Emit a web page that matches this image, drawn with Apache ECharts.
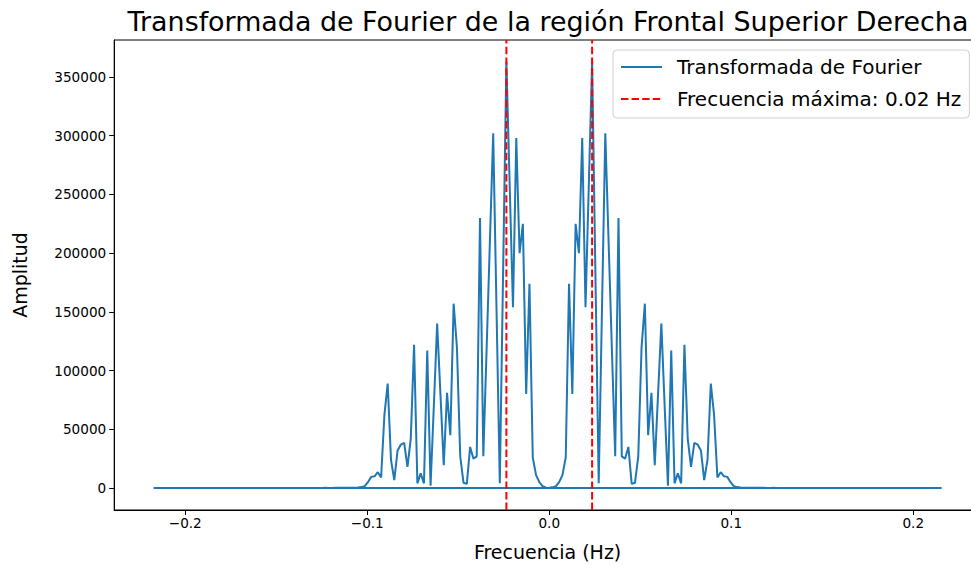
<!DOCTYPE html>
<html>
<head>
<meta charset="utf-8">
<title>Transformada de Fourier</title>
<script src="https://cdn.jsdelivr.net/npm/echarts@6/dist/echarts.min.js"></script>
<style>
  html, body { margin: 0; padding: 0; background: #ffffff; }
  #chart { width: 971px; height: 568px; }
</style>
</head>
<body>
<div id="chart"></div>
<script>
// Amplitude spectrum of the right superior frontal region signal
// (N = 240 volumes, TR = 2.3 s), plotted in numpy fftfreq order.
const nSamples = 240;
const repetitionTime = 2.3;

// |FFT| for bins 0 .. 119 (positive frequencies)
const ampPos = [
  300, 600, 1500, 5000, 11000, 26000, 174000, 80000, 225000, 200000,
  298000, 154000, 258000, 363000, 183000, 4000, 153000, 302000, 210000, 118000,
  27000, 230000, 27000, 25000, 35000, 3500, 4500, 27000, 120000, 157000,
  45000, 81000, 19500, 80000, 140000, 70000, 2000, 117000, 4000, 12500,
  4000, 122000, 42000, 18000, 38500, 37000, 32000, 6800, 24000, 89000,
  62000, 9000, 13500, 10000, 9500, 5000, 1500, 800, 450, 300,
  260, 210, 240, 180, 150, 170, 130, 120, 140, 110,
  100, 120, 90, 95, 80, 100, 85, 70, 90, 75,
  60, 80, 70, 65, 55, 70, 60, 50, 65, 55,
  45, 60, 50, 40, 55, 45, 40, 50, 40, 35,
  45, 40, 30, 40, 35, 30, 40, 30, 25, 35,
  30, 25, 30, 25, 20, 30, 25, 20, 25, 20
];

// |FFT| for bins -120 .. -1 (negative frequencies)
const ampNeg = [
  20,
  20, 25, 20, 25, 30, 20, 25, 30, 25, 30,
  35, 25, 30, 40, 30, 35, 40, 30, 40, 45,
  35, 40, 50, 40, 45, 55, 40, 50, 60, 45,
  55, 65, 50, 60, 70, 55, 65, 70, 80, 60,
  75, 90, 70, 85, 100, 80, 95, 90, 120, 100,
  110, 140, 120, 130, 170, 150, 180, 240, 210, 260,
  300, 450, 800, 1500, 5000, 9500, 10000, 13500, 9000, 62000,
  89000, 24000, 6800, 32000, 37000, 38500, 18000, 42000, 122000, 4000,
  12500, 4000, 117000, 2000, 70000, 140000, 80000, 19500, 81000, 45000,
  157000, 120000, 27000, 4500, 3500, 35000, 25000, 27000, 230000, 27000,
  118000, 210000, 302000, 153000, 4000, 183000, 363000, 258000, 154000, 298000,
  200000, 225000, 80000, 174000, 26000, 11000, 5000, 1500, 600
];

// dominant frequency (bin 13), marked on both sides of the spectrum
const peakFreq = 0.02355;
const xTicks = [-0.2, -0.1, 0.0, 0.1, 0.2];
const yTicks = [0, 50000, 100000, 150000, 200000, 250000, 300000, 350000];

const titleText = 'Transformada de Fourier de la región Frontal Superior Derecha';
const spectrumName = 'Transformada de Fourier';
const peakName = 'Frecuencia máxima: 0.02 Hz';
const xName = 'Frecuencia (Hz)';
const yName = 'Amplitud';

// axis ranges (data range plus 5 % padding)
const xMin = -0.23904, xMax = 0.23723;
const yMin = -18700, yMax = 381500;

// frequency of each bin, same ordering as np.fft.fftfreq
const binWidth = 1 / (nSamples * repetitionTime);
const spectrum = [];
ampPos.forEach((a, k) => spectrum.push([k * binWidth, a]));
ampNeg.forEach((a, i) => spectrum.push([(i - ampNeg.length) * binWidth, a]));

const font = "'DejaVu Sans', sans-serif";
const dash = [7.4, 3.2];
const tickFont = { fontFamily: font, fontSize: 13.6, color: '#000000' };

// a full-height dashed vertical line at frequency f
function peakLine(f) {
  return {
    type: 'line',
    name: peakName,
    data: [[f, yMin], [f, yMax]],
    symbol: 'none',
    showSymbol: false,
    silent: true,
    lineStyle: { color: '#ff0000', width: 2, type: dash },
    itemStyle: { color: '#ff0000' },
    z: 3
  };
}

const chart = echarts.init(document.getElementById('chart'), null, { renderer: 'svg' });
chart.setOption({
  animation: false,
  backgroundColor: '#ffffff',
  textStyle: { fontFamily: font, fontSize: 13.6, color: '#000000' },
  title: {
    text: titleText,
    left: 543,
    top: 3,
    textAlign: 'center',
    textStyle: { fontFamily: font, fontSize: 26.9, fontWeight: 'normal', color: '#000000' }
  },
  legend: {
    orient: 'vertical',
    left: 613,
    top: 50,
    padding: [7, 8, 9, 7],
    itemWidth: 41,
    itemHeight: 20,
    itemGap: 12,
    backgroundColor: 'rgba(255,255,255,0.8)',
    borderColor: '#d0d0d0',
    borderWidth: 1,
    borderRadius: 4,
    itemStyle: { opacity: 0 },
    textStyle: { fontFamily: font, fontSize: 20, color: '#000000', padding: [0, 0, 0, 10], lineHeight: 20 },
    data: [spectrumName, peakName]
  },
  grid: {
    show: true,
    left: 114.2,
    top: 40,
    width: 866.8,
    height: 470,
    outerBoundsMode: 'none',
    containLabel: false,
    borderColor: '#000000',
    borderWidth: 1,
    backgroundColor: 'transparent'
  },
  xAxis: {
    type: 'value',
    min: xMin,
    max: xMax,
    name: xName,
    nameLocation: 'middle',
    nameGap: 32,
    nameTextStyle: { fontFamily: font, fontSize: 19, color: '#000000' },
    axisLine: { show: true, onZero: false, lineStyle: { color: '#000000', width: 1 } },
    axisTick: { show: true, length: 5, customValues: xTicks, lineStyle: { color: '#000000' } },
    axisLabel: Object.assign({
      customValues: xTicks,
      margin: 6,
      formatter: v => {
        const s = (Math.abs(v) < 1e-9 ? 0 : v).toFixed(1);
        return s.replace('-', '\u2212');
      }
    }, tickFont),
    splitLine: { show: false }
  },
  yAxis: {
    type: 'value',
    min: yMin,
    max: yMax,
    name: yName,
    nameLocation: 'middle',
    nameGap: 85,
    nameTextStyle: { fontFamily: font, fontSize: 19, color: '#000000' },
    axisLine: { show: true, onZero: false, lineStyle: { color: '#000000', width: 1 } },
    axisTick: { show: true, length: 5, customValues: yTicks, lineStyle: { color: '#000000' } },
    axisLabel: Object.assign({
      customValues: yTicks,
      margin: 8,
      formatter: v => String(Math.round(v))
    }, tickFont),
    splitLine: { show: false }
  },
  series: [
    {
      type: 'line',
      name: spectrumName,
      data: spectrum,
      symbol: 'none',
      showSymbol: false,
      lineStyle: { color: '#1f77b4', width: 2 },
      itemStyle: { color: '#1f77b4' },
      z: 2
    },
    peakLine(-peakFreq),
    peakLine(peakFreq)
  ]
});
</script>
</body>
</html>
